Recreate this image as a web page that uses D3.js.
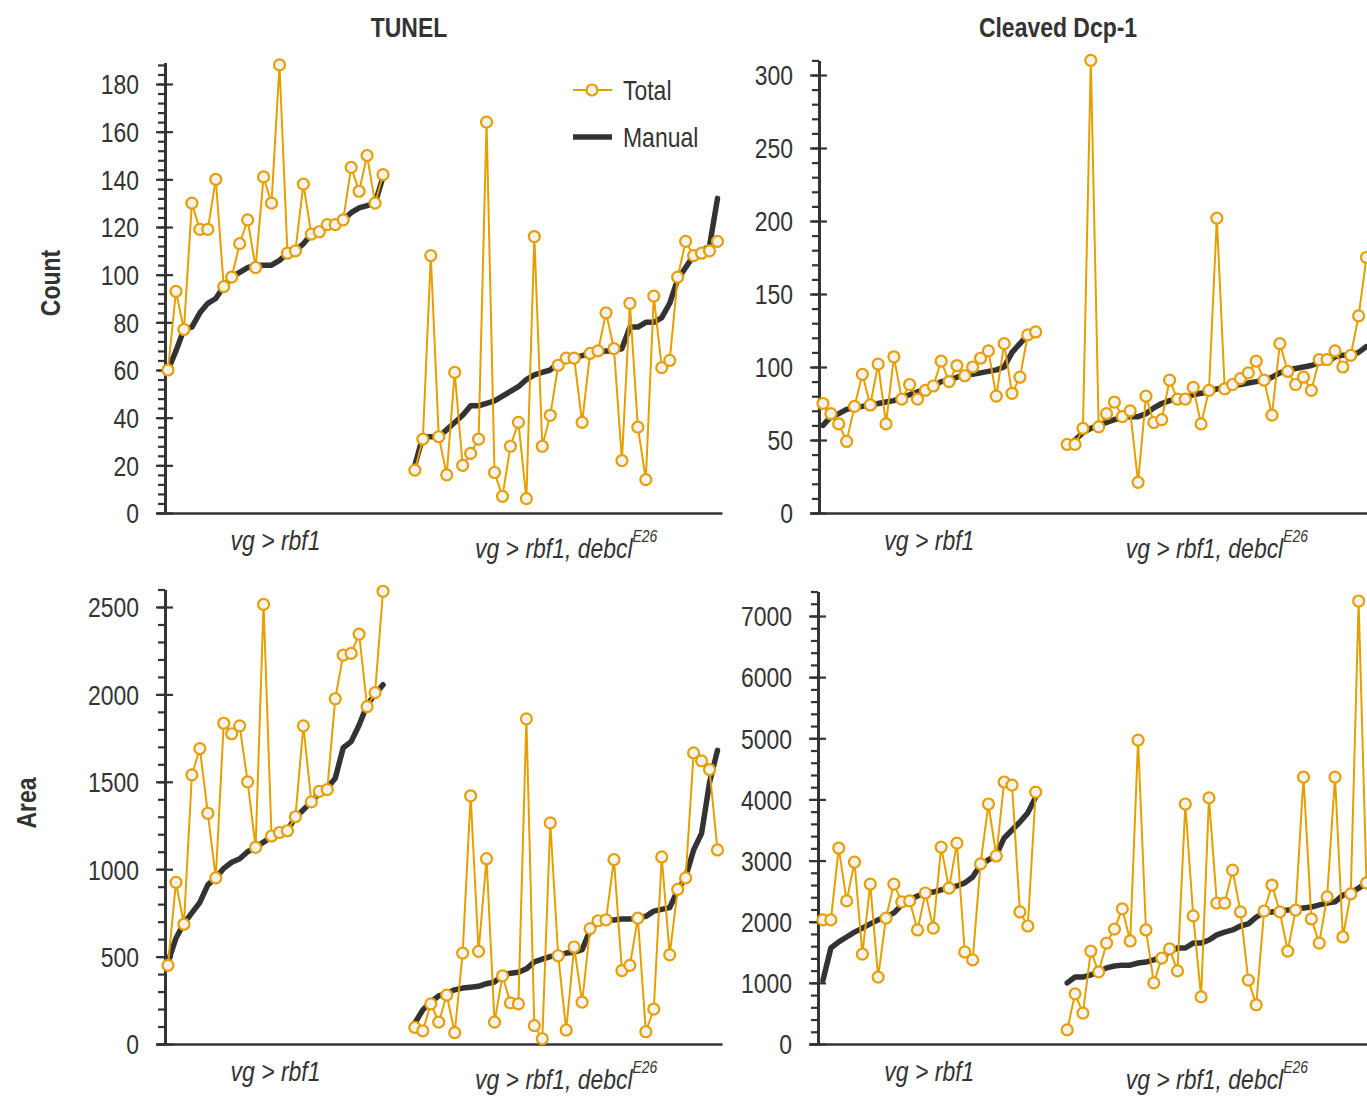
<!DOCTYPE html>
<html>
<head>
<meta charset="utf-8">
<script src="https://cdn.jsdelivr.net/npm/d3@7"></script>
<style>
  body { margin: 0; background: #fff; overflow: hidden; }
  svg { display: block; }
  text { font-family: "Liberation Sans Narrow", "Arial Narrow", "Liberation Sans", Arial, sans-serif; fill: #333; }
</style>
</head>
<body>
<svg id="chart" width="1367" height="1097"></svg>
<script>
// ---------------------------------------------------------------------------//
// DATA -----------------------------------------------------------------------//
// ---------------------------------------------------------------------------//

var genotypes = ["vg > rbf1", "vg > rbf1, debcl"]
var superscript = "E26"
var markers = ["TUNEL", "Cleaved Dcp-1"]
var measures = ["Count", "Area"]
var seriesNames = ["Total", "Manual"]

// TUNEL count
var tunelCountTotal1 = [60, 93, 77, 130, 119, 119, 140, 95, 99, 113, 123, 103, 141, 130, 188, 109, 110, 138, 117, 118, 121, 121, 123, 145, 135, 150, 130, 142]
var tunelCountManual1 = [60, 68, 77, 78, 84, 88, 90, 95, 99, 101, 103, 104, 104, 104, 106, 109, 110, 113, 117, 118, 120, 121, 123, 126, 128, 129, 130, 141]
var tunelCountTotal2 = [18, 31, 108, 32, 16, 59, 20, 25, 31, 164, 17, 7, 28, 38, 6, 116, 28, 41, 62, 65, 65, 38, 67, 68, 84, 69, 22, 88, 36, 14, 91, 61, 64, 99, 114, 108, 109, 110, 114]
var tunelCountManual2 = [20, 32, 32, 32, 35, 38, 41, 45, 45, 46, 47, 49, 51, 53, 56, 58, 59, 60, 63, 64, 65, 66, 67, 67, 68, 68, 69, 78, 78, 80, 80, 82, 88, 98, 103, 108, 110, 112, 132]

// Cleaved Dcp-1 count
var dcpCountTotal1 = [75, 68, 61, 49, 73, 95, 74, 102, 61, 107, 78, 88, 78, 84, 87, 104, 90, 101, 94, 100, 106, 111, 80, 116, 82, 93, 122, 124]
var dcpCountManual1 = [60, 66, 68, 71, 72, 73, 74, 75, 76, 77, 79, 81, 83, 85, 87, 90, 91, 93, 95, 95, 96, 97, 98, 100, 110, 116, 122, 124]
var dcpCountTotal2 = [47, 47, 58, 310, 59, 68, 76, 66, 70, 21, 80, 62, 64, 91, 78, 78, 86, 61, 84, 202, 85, 88, 92, 96, 104, 91, 67, 116, 97, 88, 93, 84, 105, 105, 111, 100, 108, 135, 175]
var dcpCountManual2 = [46, 50, 55, 58, 60, 62, 64, 65, 66, 66, 68, 72, 75, 77, 78, 79, 81, 82, 83, 85, 86, 87, 88, 89, 90, 91, 93, 96, 98, 99, 100, 101, 103, 103, 107, 108, 108, 110, 114]

// TUNEL area
var tunelAreaTotal1 = [450, 925, 685, 1540, 1690, 1320, 950, 1835, 1775, 1820, 1500, 1125, 2515, 1190, 1210, 1220, 1300, 1820, 1385, 1445, 1455, 1975, 2225, 2235, 2345, 1930, 2010, 2590]
var tunelAreaManual1 = [470, 605, 690, 750, 810, 910, 950, 1005, 1040, 1060, 1100, 1125, 1155, 1185, 1205, 1225, 1295, 1340, 1385, 1435, 1465, 1520, 1695, 1730, 1825, 1940, 2000, 2055]
var tunelAreaTotal2 = [95, 75, 230, 125, 280, 65, 520, 1420, 530, 1060, 125, 390, 235, 230, 1860, 105, 30, 1265, 505, 80, 555, 240, 660, 705, 710, 1055, 420, 450, 720, 70, 200, 1070, 510, 885, 950, 1665, 1620, 1570, 1110]
var tunelAreaManual2 = [120, 195, 240, 275, 290, 310, 320, 325, 330, 345, 355, 395, 405, 410, 430, 470, 485, 500, 510, 520, 525, 540, 650, 700, 710, 710, 715, 715, 720, 730, 760, 770, 780, 880, 955, 1110, 1205, 1495, 1680]

// Cleaved Dcp-1 area
var dcpAreaTotal1 = [2030, 2030, 3205, 2340, 2975, 1470, 2615, 1095, 2060, 2615, 2325, 2340, 1865, 2470, 1895, 3220, 2550, 3285, 1505, 1375, 2945, 3925, 3075, 4285, 4235, 2160, 1930, 4120]
var dcpAreaManual1 = [1045, 1570, 1670, 1750, 1830, 1895, 1965, 2030, 2075, 2145, 2275, 2355, 2420, 2470, 2485, 2520, 2550, 2585, 2635, 2730, 2930, 3010, 3090, 3370, 3500, 3630, 3780, 4040]
var dcpAreaTotal2 = [230, 820, 505, 1520, 1180, 1650, 1880, 2210, 1685, 4970, 1865, 1000, 1405, 1555, 1195, 3925, 2095, 770, 4025, 2305, 2305, 2845, 2160, 1045, 640, 2175, 2600, 2160, 1520, 2190, 4365, 2045, 1650, 2405, 4365, 1750, 2455, 7245, 2635]
var dcpAreaManual2 = [1000, 1095, 1095, 1130, 1180, 1245, 1275, 1290, 1290, 1325, 1340, 1375, 1425, 1505, 1570, 1570, 1650, 1650, 1700, 1785, 1830, 1865, 1930, 1965, 2075, 2145, 2160, 2175, 2190, 2210, 2225, 2240, 2275, 2305, 2325, 2435, 2470, 2550, 2635]

// tick settings per panel
var yMax = [189, 310, 2600, 7400]
var yMajor = [20, 50, 500, 1000]
var yMinor = [4, 10, 100, 200]
var yRef = [180, 300, 2500, 7000]

// ---------------------------------------------------------------------------//
// SETUP ----------------------------------------------------------------------//
// ---------------------------------------------------------------------------//

var svg = d3.select('#chart')

var orange = "#E69F00"
var dark = "#333333"
var gap = 3

// layout of the four panels
var panels = [
  { total: [tunelCountTotal1, tunelCountTotal2], manual: [tunelCountManual1, tunelCountManual2],
    ax: 165, xr: [168, 717.5], xEnd: 722, y0: 513, refPx: 84 },
  { total: [dcpCountTotal1, dcpCountTotal2], manual: [dcpCountManual1, dcpCountManual2],
    ax: 819, xr: [823, 1366.5], xEnd: 1380, y0: 513, refPx: 75 },
  { total: [tunelAreaTotal1, tunelAreaTotal2], manual: [tunelAreaManual1, tunelAreaManual2],
    ax: 165, xr: [168, 717.5], xEnd: 722, y0: 1044, refPx: 607 },
  { total: [dcpAreaTotal1, dcpAreaTotal2], manual: [dcpAreaManual1, dcpAreaManual2],
    ax: 818, xr: [823, 1366.5], xEnd: 1380, y0: 1044, refPx: 616 }
]

function range(a, b, step) {
  return d3.range(a, b + step / 2, step)
}

panels.forEach(function (p, k) {
  var n1 = p.total[0].length
  var n2 = p.total[1].length
  var offset = [0, n1 + gap]

  var x = d3.scaleLinear()
    .domain([0, n1 + gap + n2 - 1])
    .range(p.xr)

  var topPx = p.y0 - (p.y0 - p.refPx) * yMax[k] / yRef[k]
  var y = d3.scaleLinear()
    .domain([0, yMax[k]])
    .range([p.y0, topPx])

  var g = svg.append("g")

  // x axis (plain line)
  var xLine = d3.scaleLinear().range([p.ax - 9, p.xEnd])
  g.append("g")
    .attr("transform", "translate(0," + p.y0 + ")")
    .attr("class", "xaxis")
    .call(d3.axisBottom(xLine).tickValues([]).tickSizeOuter(0))

  // minor ticks
  g.append("g")
    .attr("transform", "translate(" + p.ax + ",0)")
    .attr("class", "yaxis")
    .call(d3.axisLeft(y).tickValues(range(0, yMax[k], yMinor[k])).tickSize(7).tickSizeOuter(0).tickFormat(""))

  // major ticks, crossing the axis
  g.append("g")
    .attr("transform", "translate(" + p.ax + ",0)")
    .attr("class", "yaxis")
    .call(d3.axisRight(y).tickValues(range(0, yMax[k], yMajor[k])).tickSize(8).tickSizeOuter(0).tickFormat(""))

  g.append("g")
    .attr("transform", "translate(" + p.ax + ",0)")
    .attr("class", "yaxis major")
    .call(d3.axisLeft(y).tickValues(range(0, yMax[k], yMajor[k])).tickSize(9).tickPadding(17)
      .tickSizeOuter(0).tickFormat(d3.format("d")))

  var line = d3.line()
    .x(function (d) { return x(d.i) })
    .y(function (d) { return y(d.v) })

  for (var s = 0; s < 2; s++) {
    var man = p.manual[s].map(function (v, i) { return { i: i + offset[s], v: v } })
    var tot = p.total[s].map(function (v, i) { return { i: i + offset[s], v: v } })

    g.append("path")
      .datum(man)
      .attr("d", line)
      .attr("fill", "none")
      .attr("stroke", dark)
      .attr("stroke-width", 5.5)
      .attr("stroke-linejoin", "round")
      .attr("stroke-linecap", "round")

    g.append("path")
      .datum(tot)
      .attr("d", line)
      .attr("fill", "none")
      .attr("stroke", orange)
      .attr("stroke-width", 2)

    g.selectAll(null)
      .data(tot)
      .enter()
      .append("circle")
      .attr("cx", function (d) { return x(d.i) })
      .attr("cy", function (d) { return y(d.v) })
      .attr("r", 5.5)
      .attr("fill", "#f2f2f2")
      .attr("stroke", orange)
      .attr("stroke-width", 2.2)
  }

  // genotype labels under each group
  var c1 = x((n1 - 1) / 2)
  var c2 = x(offset[1] + (n2 - 1) / 2)

  g.append("text")
    .attr("x", c1)
    .attr("y", p.y0 + 37)
    .attr("text-anchor", "middle")
    .style("font-size", "28px")
    .style("font-style", "italic")
    .text(genotypes[0])

  var t2 = g.append("text")
    .attr("x", c2)
    .attr("y", p.y0 + 45)
    .attr("text-anchor", "middle")
    .style("font-size", "28px")
    .style("font-style", "italic")
  t2.append("tspan").text(genotypes[1])
  t2.append("tspan")
    .attr("dy", -16)
    .style("font-size", "17px")
    .text(superscript)
})

// axis styling
svg.selectAll(".xaxis path, .yaxis path")
  .attr("stroke", dark)
  .attr("stroke-width", 2.5)
svg.selectAll(".yaxis line")
  .attr("stroke", dark)
  .attr("stroke-width", 2.2)
svg.selectAll(".yaxis text")
  .style("font-size", "28px")
  .attr("font-family", null)
  .attr("fill", dark)
  .attr("dy", "0.35em")

// column titles
svg.append("text")
  .attr("x", 409)
  .attr("y", 37)
  .attr("text-anchor", "middle")
  .style("font-size", "28px")
  .style("font-weight", "bold")
  .text(markers[0])

svg.append("text")
  .attr("x", 1058)
  .attr("y", 37)
  .attr("text-anchor", "middle")
  .style("font-size", "28px")
  .style("font-weight", "bold")
  .text(markers[1])

// row titles
svg.append("text")
  .attr("transform", "translate(60,283) rotate(-90)")
  .attr("text-anchor", "middle")
  .style("font-size", "28px")
  .style("font-weight", "bold")
  .text(measures[0])

svg.append("text")
  .attr("transform", "translate(36,803) rotate(-90)")
  .attr("text-anchor", "middle")
  .style("font-size", "28px")
  .style("font-weight", "bold")
  .text(measures[1])

// legend
var legend = svg.append("g").attr("transform", "translate(573,90)")

legend.append("line")
  .attr("x1", 0).attr("x2", 39)
  .attr("y1", 0).attr("y2", 0)
  .attr("stroke", orange)
  .attr("stroke-width", 2)
legend.append("circle")
  .attr("cx", 19).attr("cy", 0).attr("r", 5.5)
  .attr("fill", "#f2f2f2")
  .attr("stroke", orange)
  .attr("stroke-width", 2.2)
legend.append("text")
  .attr("x", 50).attr("y", 10)
  .style("font-size", "28px")
  .text(seriesNames[0])

legend.append("line")
  .attr("x1", 0).attr("x2", 39)
  .attr("y1", 47).attr("y2", 47)
  .attr("stroke", dark)
  .attr("stroke-width", 5.5)
legend.append("text")
  .attr("x", 50).attr("y", 57)
  .style("font-size", "28px")
  .text(seriesNames[1])

// no narrow font installed: squeeze every label horizontally around its anchor
svg.selectAll("text").each(function () {
  var t = d3.select(this)
  var ax = +t.attr("x") || 0
  var tr = t.attr("transform") || ""
  t.attr("transform", tr + " translate(" + ax + ",0) scale(0.82,1) translate(" + (-ax) + ",0)")
})
</script>
</body>
</html>
